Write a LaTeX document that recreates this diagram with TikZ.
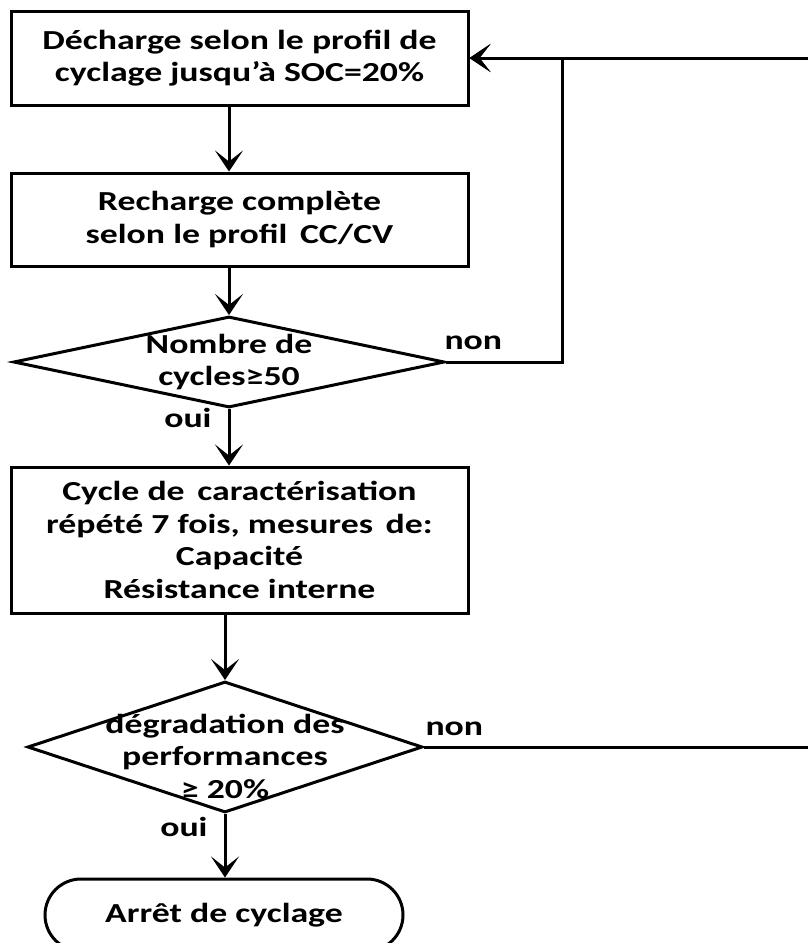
\documentclass[tikz,border=0pt]{standalone}
\usepackage{fontspec}
\setmainfont{Carlito}[FakeStretch=1.3]
\usetikzlibrary{arrows.meta,shapes.geometric,shapes.misc,positioning}

\begin{document}
\begin{tikzpicture}[x=1pt,y=-1pt,line width=3pt,
  >={Stealth[length=21pt,width=28pt,inset=11pt]},
  every node/.style={font=\bfseries\fontsize{27.5}{32.5}\selectfont,inner sep=0pt},
  etape/.style={draw,rectangle,align=center,minimum width=457pt},
  test/.style={draw,diamond},
  fin/.style={draw,rounded rectangle,minimum width=358pt,minimum height=72pt}]
\useasboundingbox (0,0) rectangle (808,943);
% etapes du cyclage
\node[etape,minimum height=94pt] (decharge) at (239.5,58)
 {D\'echarge selon le profil de\\cyclage jusqu'\`a SOC=20\%};
\node[etape,minimum height=93pt] (recharge) at (239.5,219.5)
 {Recharge compl\`ete\\selon le profil\, CC/CV};
\node[test,minimum width=431pt,minimum height=91pt,
 label={[align=center]center:Nombre de\\cycles≥50}] (nombre) at (229,362) {};
\node[etape,minimum height=146pt] (carac) at (239.5,540)
 {Cycle de\, caract\'erisation\\r\'ep\'et\'e 7 fois, mesures\, de:\\Capacit\'e\\R\'esistance interne};
\node[test,minimum width=395pt,minimum height=131pt,
 label={[align=center,yshift=-9pt]center:d\'egradation des\\performances\\≥ 20\%}] (degrad) at (225,747) {};
\node[fin] (arret) at (224,915) {Arr\^et de cyclage};
\coordinate (retour) at (808,58);
\coordinate (sortie) at (808,747);
% liaisons
\draw[->] (decharge.south -| nombre.north) -- (recharge.north -| nombre.north);
\draw[->] (recharge.south -| nombre.north) -- (nombre.north);
\draw[->] (nombre.south) -- node[pos=.15,left=16pt] {oui} (carac.north -| nombre.south);
\draw[->] (carac.south -| degrad.north) -- (degrad.north);
\draw[->] (degrad.south) -- node[pos=.2,left=16pt] {oui} (arret.north -| degrad.south);
\draw[->] (retour) -- (decharge.east);
\draw[->] (nombre.east) -- ++(116,0) |- (decharge.east);
\node[above right=11pt and -3pt of nombre.east] {non};
\draw (degrad.east) -- (sortie);
\node[above right=10pt and 0pt of degrad.east] {non};
\end{tikzpicture}
\end{document}
